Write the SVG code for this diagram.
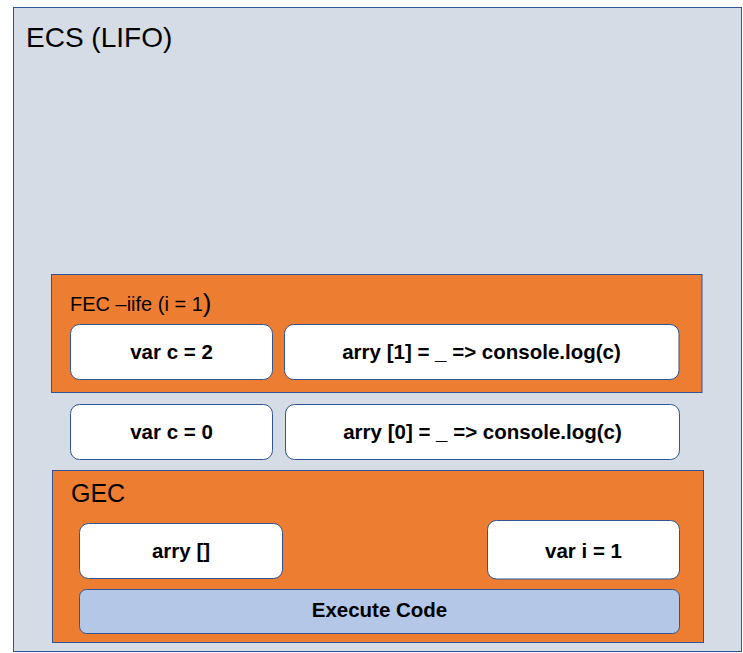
<svg xmlns="http://www.w3.org/2000/svg" width="743" height="653" viewBox="0 0 743 653">
<style>
.frame{fill:#D6DCE5;stroke:#2F5597;stroke-width:1}
.ctx{fill:#ED7D31;stroke:#2F5597;stroke-width:1}
.box{fill:#FFFFFF;stroke:#2F5597;stroke-width:1}
.exec{fill:#B4C7E7;stroke:#2F5597;stroke-width:1}
.title{font-family:"Liberation Sans",Arial,sans-serif;fill:#000}
.lbl{font-family:"Liberation Sans",Arial,sans-serif;font-weight:bold;font-size:20.5px;fill:#000;text-anchor:middle}
</style>
<g id="ecs">
<rect class="frame" x="13.5" y="7.5" width="728" height="644"/>
<text class="title" x="26" y="47" font-size="28">ECS (LIFO)</text>
</g>
<g id="fec">
<rect class="ctx" x="51.5" y="274.5" width="650.5" height="118"/>
<text class="title" x="70" y="310.5" font-size="20">FEC –iife (i = 1<tspan font-size="26" dy="1">)</tspan></text>
</g>
<g id="fec-var-c">
<rect class="box" x="70.5" y="324.5" width="202" height="55" rx="9"/>
<text class="lbl" x="171.5" y="359">var c = 2</text>
</g>
<g id="fec-arry1">
<rect class="box" x="284.5" y="324.5" width="394.5" height="55" rx="9"/>
<text class="lbl" x="481.5" y="359">arry [1] = _ =&gt; console.log(c)</text>
</g>
<g id="var-c0">
<rect class="box" x="70.5" y="404.5" width="202" height="55" rx="9"/>
<text class="lbl" x="171.5" y="439">var c = 0</text>
</g>
<g id="arry0">
<rect class="box" x="285.5" y="404.5" width="394" height="55" rx="9"/>
<text class="lbl" x="482.5" y="439">arry [0] = _ =&gt; console.log(c)</text>
</g>
<g id="gec">
<rect class="ctx" x="52.5" y="470.5" width="651" height="172"/>
<text class="title" x="71" y="502" font-size="25">GEC</text>
</g>
<g id="gec-arry">
<rect class="box" x="79.5" y="523.5" width="203" height="55" rx="9"/>
<text class="lbl" x="181" y="558">arry []</text>
</g>
<g id="gec-var-i">
<rect class="box" x="487.5" y="520.5" width="192" height="58.5" rx="9"/>
<text class="lbl" x="583.5" y="557.5">var i = 1</text>
</g>
<g id="execute-code">
<rect class="exec" x="79.5" y="589.5" width="600" height="44" rx="7"/>
<text class="lbl" x="379.5" y="617">Execute Code</text>
</g>
<g id="connectors"/>
</svg>
